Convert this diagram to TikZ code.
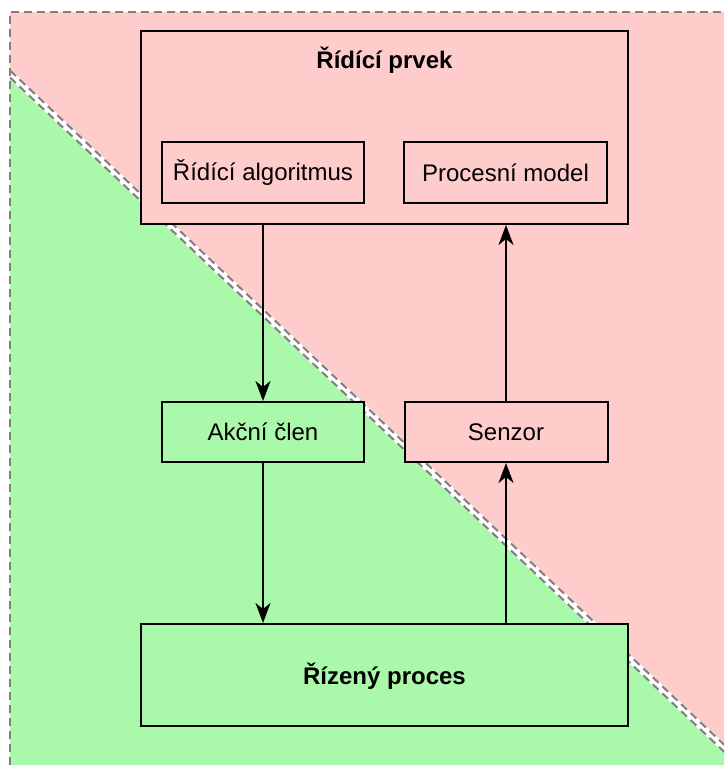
\documentclass[tikz,border=0pt]{standalone}
\usepackage{fontspec}
\setmainfont{Liberation Sans}
\usetikzlibrary{arrows.meta}
\definecolor{ctrlpink}{RGB}{255,204,204}
\definecolor{procgreen}{RGB}{170,249,170}
\definecolor{zonegray}{RGB}{128,128,128}
\tikzset{
  box/.style={draw=black, line width=2pt, inner sep=0pt, font=\fontsize{24}{28}\selectfont},
  pinkbox/.style={box, fill=ctrlpink},
  greenbox/.style={box, fill=procgreen},
  caption/.style={inner sep=0pt, font=\fontsize{24}{28}\selectfont\bfseries},
  flow/.style={line width=2pt, -{Stealth[length=20pt, width=15pt, inset=6pt]}},
  zoneedge/.style={draw=zonegray, line width=2pt, dash pattern=on 8pt off 5pt},
}
\begin{document}
\begin{tikzpicture}[x=1pt, y=-1pt]
\useasboundingbox (0,0) rectangle (724,765);

% two zones split by a diagonal
\fill[ctrlpink] (10,12) rectangle (724,765);
\fill[procgreen] (10,74) -- (724,748) -- (724,765) -- (10,765) -- cycle;
\begin{scope}
  \clip (10,12) rectangle (724,765);
  \draw[white, line width=7pt] (0,64.6) -- (740,763.1);
  \draw[zoneedge] (10,70.5) -- (734,754.0);
  \draw[zoneedge] (10,77.5) -- (734,761.0);
\end{scope}
\draw[zoneedge] (10,765) -- (10,12) -- (724,12);

% controller
\node[pinkbox, minimum width=487pt, minimum height=193pt] (prvek) at (384.5,127.5) {};
\node[caption] (prvekTitle) at (384.5,60) {Řídící prvek};
\node[pinkbox, minimum width=202pt, minimum height=61pt] (alg) at (263,172.5) {Řídící algoritmus};
\node[pinkbox, minimum width=203pt, minimum height=61pt] (model) at (505.5,172.5) {Procesní model};

% actuator and sensor
\node[greenbox, minimum width=202pt, minimum height=60pt] (akcni) at (263,432) {Akční člen};
\node[pinkbox, minimum width=203pt, minimum height=60pt] (senzor) at (506,432) {Senzor};

% controlled process
\node[greenbox, minimum width=487pt, minimum height=102pt] (proces) at (384.5,675) {};
\node[caption] (procesTitle) at (384.5,676) {Řízený proces};

% control loop
\draw[flow] (prvek.south -| akcni.north) -- (akcni.north);
\draw[flow] (akcni.south) -- (proces.north -| akcni.south);
\draw[flow] (proces.north -| senzor.south) -- (senzor.south);
\draw[flow] (senzor.north) -- (prvek.south -| senzor.north);
\end{tikzpicture}
\end{document}
